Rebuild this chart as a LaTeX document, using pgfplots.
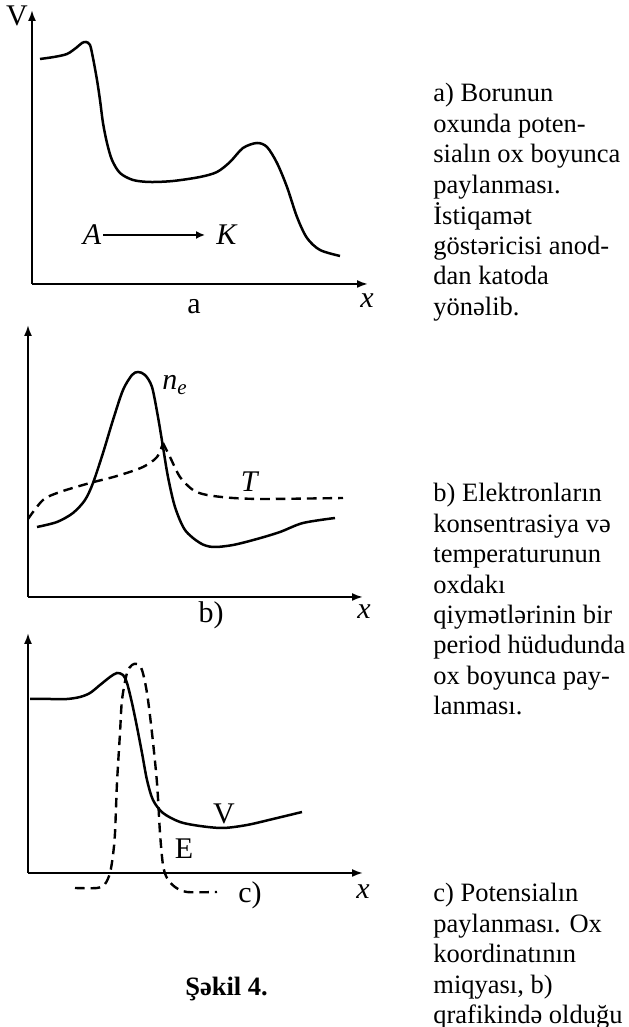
\documentclass[border=0pt]{standalone}
\usepackage{fontspec}
\setmainfont{Liberation Serif}
\usepackage{pgfplots}
\pgfplotsset{compat=1.18}
\usetikzlibrary{arrows.meta}

\pgfplotsset{
  panel/.style={
    x=0.5pt, y=0.5pt,
    xmin=0, ymin=0,
    axis lines=left,
    axis line style={line width=0.95pt, -{Latex[length=5.5pt,width=4pt]}},
    xtick=\empty, ytick=\empty,
    clip=false,
    anchor=south west,
  },
  curve/.style={line width=1.25pt, smooth, tension=0.5, black, no markers},
  dashcurve/.style={curve, line width=1.2pt, dash pattern=on 4.8pt off 3pt},
}
\tikzset{lbl/.style={font=\fontsize{15pt}{18pt}\selectfont, inner sep=0pt}}

\begin{document}
\begin{tikzpicture}
\path[use as bounding box] (0,0) rectangle (314pt,513.5pt);

% a) potential along the tube axis
\begin{axis}[panel, at={(16pt,371.5pt)}, xmax=336, ymax=274]
\addplot[curve] coordinates {
 (8,225) (22,227) (35,230) (44,236) (50,241) (54,242) (58,239) (61,226)
 (65,204) (68,184) (71,161) (75,141) (80,124) (88,111) (101,104) (118,102)
 (141,103) (168,107) (185,112) (198,122) (211,136) (225,141) (235,137)
 (245,121) (255,97) (265,67) (275,46) (288,34) (308,28)};
\node[lbl] at (axis cs:-15,268) {V};
\node[lbl] at (axis cs:335,-17) {\textit{x}};
\node[lbl] at (axis cs:162,-23) {a};
\node[lbl] at (axis cs:60,49) {\textit{A}};
\node[lbl] at (axis cs:195,49) {\textit{K}};
\draw[line width=0.8pt, -{Latex[length=4.5pt,width=4pt]}] (axis cs:71,49) -- (axis cs:173,49);
\end{axis}

% b) electron density and temperature
\begin{axis}[panel, at={(14pt,215pt)}, xmax=335, ymax=272]
\addplot[curve] coordinates {
 (9,70) (29,75) (45,84) (57,97) (65,114) (75,144) (85,177) (95,207)
 (104,222) (110,225) (117,222) (124,210) (130,180) (135,150) (140,120)
 (147,90) (157,67) (172,54) (185,50) (205,52) (229,58) (252,65) (275,74) (307,79)};
\addplot[dashcurve] coordinates {
 (0,78) (15,97) (32,105) (62,114) (89,121) (115,130) (129,140) (135,154)};
\addplot[dashcurve] coordinates {
 (135,154) (142,140) (152,120) (165,107) (179,102) (205,99) (239,98) (315,99)};
\node[lbl] at (axis cs:147,212) {\textit{n}\textsubscript{\textit{e}}};
\node[lbl] at (axis cs:222,115) {\textit{T}};
\node[lbl] at (axis cs:183,-18) {b)};
\node[lbl] at (axis cs:336,-15) {\textit{x}};
\end{axis}

% c) potential and field
\begin{axis}[panel, at={(14pt,77pt)}, xmax=335, ymax=240]
\addplot[curve] coordinates {
 (2,174) (22,174) (39,174) (52,176) (62,180) (72,188) (82,196) (89,200)
 (95,198) (99,190) (104,170) (109,146) (114,120) (119,93) (125,73) (135,60)
 (152,51) (172,47) (195,45) (219,48) (245,54) (274,61)};
\addplot[dashcurve] coordinates {
 (47,-15) (69,-15) (77,-11) (82,0) (85,18) (87,40) (89,90) (92,140) (94,173)
 (99,200) (104,208) (109,209) (114,203) (119,180) (124,140) (129,90) (132,40)
 (135,8) (139,-5) (147,-14) (159,-19) (189,-19)};
\node[lbl] at (axis cs:196,59) {V};
\node[lbl] at (axis cs:156,24) {E};
\node[lbl] at (axis cs:222,-22) {c)};
\node[lbl] at (axis cs:335,-19) {\textit{x}};
\end{axis}

\node[anchor=base west, inner sep=0pt, font=\fontsize{13.25pt}{15.2pt}\selectfont]
 at (216.5pt,462.5pt) {\begin{tabular}[t]{@{}l@{}}
 a) Borunun\\ oxunda poten-\\ sialın ox boyunca\\ paylanması.\\
 İstiqamət\\ göstəricisi anod-\\ dan katoda\\ yönəlib.\end{tabular}};

\node[anchor=base west, inner sep=0pt, font=\fontsize{13.25pt}{15.2pt}\selectfont]
 at (216.5pt,262.5pt) {\begin{tabular}[t]{@{}l@{}}
 b) Elektronların\\ konsentrasiya və\\ temperaturunun\\ oxdakı\\
 qiymətlərinin bir\\ period hüdudunda\\ ox boyunca pay-\\ lanması.\end{tabular}};

\node[anchor=base west, inner sep=0pt, font=\fontsize{13.25pt}{15.2pt}\selectfont]
 at (216.5pt,62.5pt) {\begin{tabular}[t]{@{}l@{}}
 c) Potensialın\\ paylanması. Ox\\ koordinatının\\ miqyası, b)\\
 qrafikində olduğu\end{tabular}};

\node[anchor=base, inner sep=0pt, font=\fontsize{13.25pt}{15pt}\selectfont\bfseries]
 at (113.25pt,16pt) {Şəkil 4.};
\end{tikzpicture}
\end{document}
